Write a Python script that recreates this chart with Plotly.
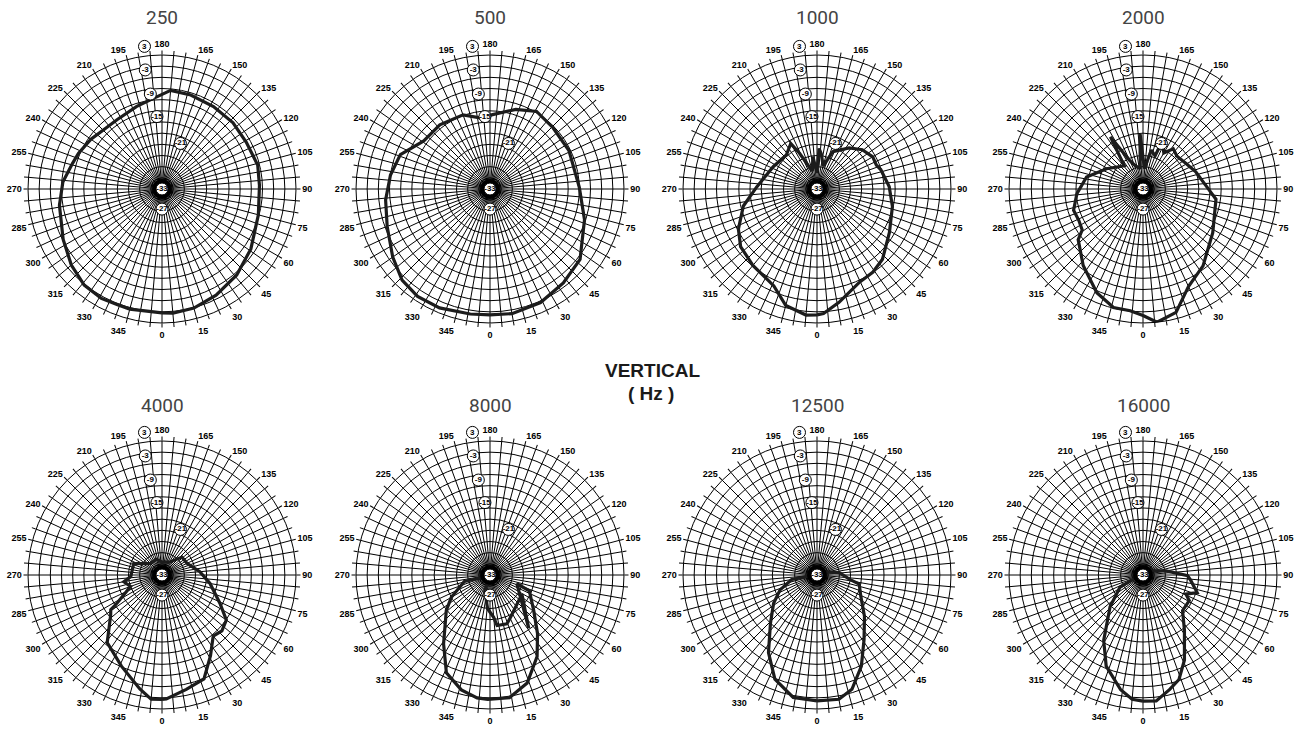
import math
import plotly.graph_objects as go

# ---------------- data ----------------
FREQS = ["250", "500", "1000", "2000", "4000", "8000", "12500", "16000"]

THETA_250 = [0, 5, 15, 27, 41, 56, 75, 92, 104, 119, 133, 148, 163, 175, 185, 197, 213, 224, 235, 247, 254, 266, 279, 297, 310, 321, 331, 339, 345, 360]
DB_250 = [0.3, 0.5, 0.1, -1.0, -2.4, -4.2, -6.2, -6.8, -6.5, -7.1, -6.9, -6.9, -6.6, -6.4, -8.5, -9.8, -10.8, -10.7, -9.7, -8.6, -8.0, -6.3, -5.1, -3.2, -1.2, 0.2, 0.6, 0.3, 0.4, 0.3]

THETA_500 = [0, 10, 24, 38, 52, 72, 91, 116, 134, 149, 162, 178, 188, 200, 218, 234, 249, 262, 276, 290, 305, 316, 326, 337, 351, 360]
DB_500 = [0.8, 1.0, 0.4, -1.0, -2.3, -6.3, -9.0, -9.4, -9.4, -8.7, -10.5, -13.0, -13.7, -11.8, -11.1, -11.0, -7.2, -6.0, -4.8, -3.6, -1.1, 1.0, 1.8, 1.7, 1.0, 0.8]

THETA_1000 = [0, 3, 11, 24, 34, 43, 59, 77, 92, 107, 112, 120, 131, 142, 157, 165, 173, 177, 181, 187, 195, 206, 210, 222, 243, 268, 283, 297, 307, 320, 336, 345, 355, 360]
DB_1000 = [0.8, 0.5, -2.0, -5.4, -6.1, -7.2, -10.3, -12.2, -13.6, -15.1, -15.8, -15.7, -16.9, -19.0, -22.1, -26.6, -23.5, -22.1, -28.7, -24.2, -28.0, -22.3, -18.9, -20.7, -19.8, -16.8, -12.7, -9.3, -7.3, -6.2, -4.5, -0.6, 1.0, 0.8]

THETA_2000 = [0, 6, 15, 25, 38, 58, 82, 89, 108, 121, 134, 143, 150, 158, 160, 168, 176, 183, 188, 198, 205, 212, 219, 241, 258, 274, 287, 296, 304, 308, 322, 336, 346, 354, 360]
DB_2000 = [1.0, 3.0, 1.3, -4.1, -6.8, -10.9, -13.2, -15.2, -18.1, -19.6, -20.3, -19.5, -21.8, -19.3, -23.5, -22.3, -27.5, -18.2, -27.5, -26.5, -24.5, -16.5, -25.0, -21.8, -17.5, -15.2, -13.5, -13.8, -13.3, -10.9, -6.9, -2.5, -0.2, -0.1, 1.0]

THETA_4000 = [0, 2, 12, 22, 31, 40, 47, 55, 64, 80, 95, 115, 132, 150, 180, 200, 225, 248, 273, 280, 290, 302, 304, 308, 321, 336, 349, 355, 360]
DB_4000 = [0.4, 0.3, -1.6, -2.9, -7.7, -11.6, -11.0, -11.9, -15.7, -19.9, -22.8, -25.6, -25.8, -29.0, -29.5, -28.5, -28.6, -24.8, -24.6, -22.6, -24.0, -18.8, -16.4, -15.5, -9.6, -6.2, -1.8, 0.5, 0.4]

THETA_8000 = [289, 284, 300, 309, 326, 336, 346, 354, 359, 9, 19, 30, 39, 51, 68, 72, 36, 59, 26, 19, 8, 5, 356, 342, 0, 289]
DB_8000 = [-30.9, -25.9, -21.0, -17.9, -10.7, -4.2, -1.2, 0.2, 0.4, 0.4, -2.3, -7.7, -12.7, -17.9, -21.6, -25.4, -15.3, -23.0, -20.4, -19.1, -19.3, -21.6, -23.9, -28.5, -33.0, -30.9]

THETA_12500 = [0, 10, 17, 26, 36, 49, 64, 78, 82, 96, 140, 279, 280, 292, 303, 316, 328, 338, 349, 360]
DB_12500 = [0.8, 0.9, -0.9, -5.8, -11.5, -16.1, -19.9, -21.4, -24.0, -27.0, -31.8, -30.2, -26.1, -22.3, -19.1, -15.0, -8.4, -2.8, 0.5, 0.8]

THETA_16000 = [0, 6, 13, 19, 26, 37, 48, 61, 66, 72, 83, 89, 100, 123, 289, 298, 314, 329, 338, 349, 355, 360]
DB_16000 = [0.9, 1.0, -1.4, -3.3, -7.6, -14.5, -18.7, -18.8, -20.4, -17.7, -20.0, -21.0, -26.7, -30.9, -31.1, -26.0, -20.7, -12.5, -6.6, -1.6, 0.5, 0.9]

SERIES_THETA = [THETA_250, THETA_500, THETA_1000, THETA_2000, THETA_4000, THETA_8000, THETA_12500, THETA_16000]
SERIES_DB = [DB_250, DB_500, DB_1000, DB_2000, DB_4000, DB_8000, DB_12500, DB_16000]

# radial scale labels (circled) and angular tick labels
RADIAL_LABELS = [3, -3, -9, -15, -21, -27, -33]
ANGLE_TICKS = list(range(0, 360, 5))
ANGLE_LABEL_STEP = 15
RING_VALUES = list(range(-30, 4, 3))
R_MIN, R_MAX = -33, 3

# --------------- styling / placement (not data) ---------------
W, H = 1306, 731
CENTERS_X = [162, 490, 817, 1143]    # window pixels
CENTERS_Y = [189, 575]
TITLE_Y = [17, 405]
RADIUS = 134
LABEL_THETA = [187, 188, 187, 184, 158, 0, 0]
LABEL_ROFF = [2.6, 2.3, 1.7, 1.5, 1.2, -0.6, 0.0]
LABEL_SIZE = 12


def px_x(x):
    return x / W


def px_y(y):
    return 1 - y / H


def polar_px(cx, cy, theta, r):
    rp = (r - R_MIN) / (R_MAX - R_MIN) * RADIUS
    t = math.radians(theta)
    return cx + rp * math.sin(t), cy + rp * math.cos(t)


fig = go.Figure()
layout_polars = {}
shapes = []
annotations = []
ticktext = [str(a) if a % ANGLE_LABEL_STEP == 0 else "" for a in ANGLE_TICKS]
label_font = dict(family="Liberation Sans", size=8, color="black", weight="bold")

for i, (name, th, db) in enumerate(zip(FREQS, SERIES_THETA, SERIES_DB)):
    row, col = divmod(i, 4)
    cx, cy = CENTERS_X[col], CENTERS_Y[row]
    key = "polar" if i == 0 else f"polar{i+1}"
    layout_polars[key] = dict(
        domain=dict(x=[px_x(cx - RADIUS), px_x(cx + RADIUS)],
                    y=[px_y(cy + RADIUS), px_y(cy - RADIUS)]),
        bgcolor="white",
        angularaxis=dict(
            rotation=270, direction="counterclockwise",
            tickmode="array", tickvals=ANGLE_TICKS, ticktext=ticktext,
            showgrid=True, gridcolor="black", gridwidth=0.9,
            showline=True, linecolor="black", linewidth=1,
            ticks="outside", ticklen=4, tickcolor="black", tickwidth=1,
            tickfont=dict(family="Liberation Sans", size=9, color="black", weight="bold"),
        ),
        radialaxis=dict(
            range=[R_MIN, R_MAX], tickmode="array", tickvals=RING_VALUES,
            showgrid=True, gridcolor="black", gridwidth=0.9,
            showline=False, showticklabels=False, ticks="",
        ),
    )
    sub = key
    fig.add_trace(go.Scatterpolar(
        theta=th, r=db, mode="lines", subplot=sub,
        line=dict(color="#1c1c1c", width=3.2), showlegend=False, hoverinfo="skip",
    ))
    fig.add_trace(go.Scatterpolar(
        theta=[0], r=[R_MIN], mode="markers", subplot=sub,
        marker=dict(size=20, color="black"), showlegend=False, hoverinfo="skip",
    ))
    # circled radial labels; ones outside the radial range become shape + annotation
    in_t, in_r, in_txt = [], [], []
    for v, t, o in zip(RADIAL_LABELS, LABEL_THETA, LABEL_ROFF):
        r = v + o
        if r <= R_MAX:
            in_t.append(t); in_r.append(r); in_txt.append(str(v))
        else:
            x, y = polar_px(cx, cy, t, r)
            half = LABEL_SIZE / 2
            shapes.append(dict(type="circle", xref="paper", yref="paper",
                               x0=px_x(x - half), x1=px_x(x + half),
                               y0=px_y(y + half), y1=px_y(y - half),
                               line=dict(color="black", width=1), fillcolor="white"))
            annotations.append(dict(x=px_x(x), y=px_y(y), xref="paper", yref="paper",
                                    text=str(v), showarrow=False, font=label_font,
                                    xanchor="center", yanchor="middle"))
    fig.add_trace(go.Scatterpolar(
        theta=in_t, r=in_r, mode="markers+text", subplot=sub, cliponaxis=False,
        text=in_txt, textposition="middle center", textfont=label_font,
        marker=dict(size=LABEL_SIZE, color="white", line=dict(color="black", width=1)),
        showlegend=False, hoverinfo="skip",
    ))

for i, name in enumerate(FREQS):
    row, col = divmod(i, 4)
    annotations.append(dict(
        x=px_x(CENTERS_X[col]), y=px_y(TITLE_Y[row]), xref="paper", yref="paper",
        text=name, showarrow=False, xanchor="center", yanchor="middle",
        font=dict(family="Roboto", size=19, color="#444444"),
    ))
annotations.append(dict(x=px_x(652), y=px_y(370), xref="paper", yref="paper",
                        text="<b>VERTICAL</b>", showarrow=False,
                        xanchor="center", yanchor="middle",
                        font=dict(family="Liberation Sans", size=19, color="#1a1a1a")))
annotations.append(dict(x=px_x(651), y=px_y(393), xref="paper", yref="paper",
                        text="<b>( Hz )</b>", showarrow=False,
                        xanchor="center", yanchor="middle",
                        font=dict(family="Liberation Sans", size=19, color="#1a1a1a")))

fig.update_layout(
    width=W, height=H, margin=dict(l=0, r=0, t=0, b=0),
    paper_bgcolor="white", plot_bgcolor="white",
    annotations=annotations, shapes=shapes, showlegend=False,
    **layout_polars,
)
fig.write_html(
    "out.html",
    config={"displayModeBar": False},
    post_script="document.body.style.margin='0px';document.body.style.overflow='hidden';",
)
